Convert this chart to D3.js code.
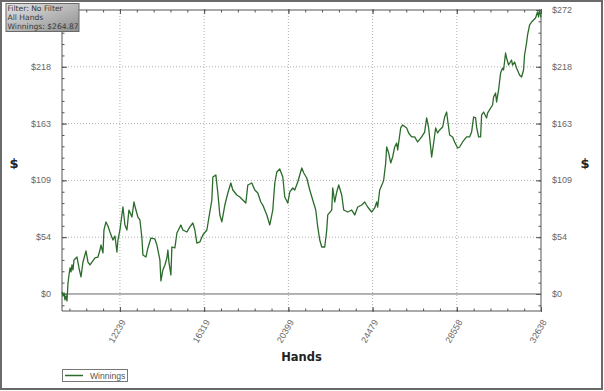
<!DOCTYPE html>
<html><head><meta charset="utf-8">
<script src="https://cdn.jsdelivr.net/npm/d3@7"></script>
<style>body{margin:0;background:#fff}svg{display:block}</style>
</head><body>
<svg id="c" width="604" height="391"></svg>
<script>
// ---- data ----
const hands = [9432,9480,9529,9577,9626,9674,9722,9771,9819,9868,9916,9964,10013,10158,10255,10352,10448,10594,10690,10787,10884,11029,11174,11271,11320,11416,11465,11562,11658,11755,11900,11997,12094,12142,12239,12384,12481,12578,12675,12820,12917,13014,13110,13207,13304,13352,13498,13594,13740,13933,14030,14175,14224,14320,14417,14514,14562,14611,14708,14756,14901,14998,15192,15288,15482,15627,15772,15869,15966,16111,16256,16450,16547,16692,16740,16886,16982,17079,17176,17321,17466,17612,17708,17902,18047,18192,18338,18434,18628,18773,18918,19064,19160,19354,19499,19644,19741,19838,19983,20128,20225,20370,20467,20612,20709,20854,21048,21145,21290,21435,21580,21726,21822,21919,22016,22161,22258,22306,22500,22548,22645,22742,22839,22984,23081,23274,23468,23613,23758,23952,24097,24242,24436,24581,24678,24726,24823,24968,25017,25114,25162,25259,25356,25452,25549,25646,25694,25840,25936,26130,26227,26372,26517,26662,26856,27001,27098,27195,27292,27340,27437,27534,27630,27727,27872,27969,28066,28114,28211,28356,28453,28598,28695,28840,29034,29179,29276,29373,29470,29518,29615,29712,29760,29857,30002,30050,30196,30292,30341,30438,30486,30583,30680,30776,30825,30922,30970,31067,31212,31260,31357,31454,31599,31696,31793,31841,31938,31986,32083,32180,32277,32374,32470,32519,32567,32638];
const winnings = [1.9,-1.9,1.0,-5.7,-1.9,-6.7,10.5,18.2,24.9,21.1,27.8,23.0,32.6,35.4,24.9,16.3,30.6,41.2,30.6,27.8,30.6,34.5,35.4,42.1,46.9,39.3,61.3,69.0,65.1,59.4,51.7,55.5,40.2,51.7,61.3,83.3,66.1,61.3,80.4,73.7,88.1,80.4,73.7,70.9,53.6,37.4,35.4,44.1,53.6,52.7,46.9,32.6,12.5,23.0,27.8,34.5,42.1,30.6,18.2,45.0,44.1,58.4,66.1,61.3,59.4,64.2,68.0,61.3,48.8,49.8,56.5,61.3,72.8,90.0,112.1,114.0,96.7,75.7,69.0,85.2,96.7,106.3,99.6,94.8,92.9,90.0,87.1,104.4,106.3,99.6,96.7,88.1,85.2,75.7,66.1,80.4,106.3,116.8,119.7,112.1,92.9,87.1,97.7,101.5,99.6,107.3,120.7,115.9,111.1,99.6,90.0,80.4,64.2,51.7,45.0,45.0,61.3,75.7,80.4,101.5,88.1,97.7,104.4,94.8,80.4,78.5,80.4,75.7,83.3,85.2,88.1,83.3,78.5,82.4,88.1,83.3,99.6,106.3,109.2,125.5,140.8,135.0,125.5,131.2,140.8,144.6,137.9,159.0,161.9,159.0,154.2,150.4,150.4,145.6,150.4,155.1,168.6,159.0,140.8,131.2,144.6,159.0,154.2,157.1,159.9,169.5,174.3,166.6,152.3,150.4,145.6,139.8,140.8,145.6,150.4,150.4,155.1,169.5,168.6,159.9,150.4,150.4,171.4,174.3,168.6,173.3,178.1,181.0,188.7,192.5,183.9,195.4,211.6,216.4,214.5,230.8,226.0,219.3,224.1,219.3,222.2,216.4,209.7,207.8,214.5,228.9,240.4,248.0,257.6,260.5,262.4,264.3,270.1,265.3,272.0,264.87];
const xTicks = [12239, 16319, 20399, 24479, 28558, 32638];
const yTicks = [0, 54.4, 108.8, 163.2, 217.6, 272];
const yTickLabels = ["$0", "$54", "$109", "$163", "$218", "$272"];
const infoLines = ["Filter: No Filter", "All Hands", "Winnings: $264.87"];
const seriesName = "Winnings";
const xTitle = "Hands";
const yTitle = "$";

// ---- layout ----
const svg = d3.select("#c");
const L = 62, R = 541, T = 10, B = 311;
const x = d3.scaleLinear().domain([9432, 32638]).range([L, R]);
const y = d3.scaleLinear().domain([-16.3, 272]).range([B, T]);
const axisCol = "#555", txtCol = "#666", font = "'Liberation Sans', Arial, sans-serif";

// outer frame
svg.append("rect").attr("x", 1).attr("y", 1).attr("width", 601).attr("height", 388)
  .attr("fill", "#fff").attr("stroke", "#6a6a6a").attr("stroke-width", 2);

// grid
const g = svg.append("g");
g.selectAll(".vg").data(xTicks.filter(t => x(t) < R - 2)).enter().append("line")
  .attr("x1", d => x(d)).attr("x2", d => x(d)).attr("y1", T).attr("y2", B)
  .attr("stroke", "#b0b0b0").attr("stroke-dasharray", "1,2");
g.selectAll(".hg").data(yTicks.filter(t => t > 0 && y(t) > T + 2)).enter().append("line")
  .attr("x1", L).attr("x2", R).attr("y1", d => y(d)).attr("y2", d => y(d))
  .attr("stroke", "#b0b0b0").attr("stroke-dasharray", "1,2");

// minor tick values
const xMinor = d3.range(0, 40).map(i => 32638 - i * 4079.75 / 5).filter(v => v >= 9432);
const yMinor = d3.range(-1, 26).map(i => i * 54.4 / 5).filter(v => v <= 272 && v >= -16.3);

function drawAxis(axisGen, tr) {
  const a = svg.append("g").attr("transform", tr).call(axisGen);
  a.select(".domain").remove();
  a.selectAll("line").attr("stroke", axisCol);
  a.selectAll("text").remove();
  return a;
}
drawAxis(d3.axisLeft(y).tickValues(yMinor).tickSize(2.5), `translate(${L+2.5},0)`);
drawAxis(d3.axisLeft(y).tickValues(yTicks).tickSize(5), `translate(${L+5},0)`);
drawAxis(d3.axisRight(y).tickValues(yMinor).tickSize(2.5), `translate(${R-2.5},0)`);
drawAxis(d3.axisRight(y).tickValues(yTicks).tickSize(5), `translate(${R-5},0)`);
drawAxis(d3.axisBottom(x).tickValues(xMinor).tickSize(2.5), `translate(0,${B-2.5})`);
drawAxis(d3.axisBottom(x).tickValues(xTicks).tickSize(5), `translate(0,${B-4})`);
drawAxis(d3.axisTop(x).tickValues(xMinor).tickSize(2.5), `translate(0,${T+2.5})`);
drawAxis(d3.axisTop(x).tickValues(xTicks).tickSize(5), `translate(0,${T+4})`);

// frame lines
svg.append("line").attr("x1", L).attr("x2", L).attr("y1", T).attr("y2", B).attr("stroke", axisCol);
svg.append("line").attr("x1", R).attr("x2", R).attr("y1", T).attr("y2", B).attr("stroke", axisCol);
svg.append("line").attr("x1", L).attr("x2", R).attr("y1", T).attr("y2", T).attr("stroke", axisCol);
svg.append("line").attr("x1", L).attr("x2", R).attr("y1", B).attr("y2", B).attr("stroke", axisCol);
svg.append("line").attr("x1", L).attr("x2", R).attr("y1", y(0)).attr("y2", y(0)).attr("stroke", "#666");

// y labels
svg.selectAll(".yl").data(yTicks).enter().append("text")
  .attr("x", L - 11).attr("y", d => y(d) + 3).attr("text-anchor", "end")
  .attr("font-family", font).attr("font-size", 9).attr("fill", txtCol)
  .text((d, i) => yTickLabels[i]);
svg.selectAll(".yr").data(yTicks).enter().append("text")
  .attr("x", R + 11).attr("y", d => y(d) + 3).attr("text-anchor", "start")
  .attr("font-family", font).attr("font-size", 9).attr("fill", txtCol)
  .text((d, i) => yTickLabels[i]);
// x labels
svg.selectAll(".xl").data(xTicks).enter().append("text")
  .attr("transform", d => `translate(${x(d) + 6},${B + 11}) rotate(-60)`)
  .attr("text-anchor", "end")
  .attr("font-family", font).attr("font-size", 9).attr("fill", txtCol)
  .text(d => d);

// titles
svg.append("text").attr("x", (L + R) / 2).attr("y", 361).attr("text-anchor", "middle")
  .attr("font-family", "'DejaVu Sans', Verdana, sans-serif").attr("font-weight", "bold")
  .attr("font-size", 11.5).attr("fill", "#222").text(xTitle);
svg.append("text").attr("x", 14).attr("y", 168).attr("text-anchor", "middle")
  .attr("font-family", "'DejaVu Sans', Verdana, sans-serif").attr("font-weight", "bold")
  .attr("font-size", 13).attr("fill", "#222").text(yTitle);
svg.append("text").attr("x", 585).attr("y", 168).attr("text-anchor", "middle")
  .attr("font-family", "'DejaVu Sans', Verdana, sans-serif").attr("font-weight", "bold")
  .attr("font-size", 13).attr("fill", "#222").text(yTitle);

// series line
const data = hands.map((h, i) => [h, winnings[i]]);
svg.append("path").datum(data)
  .attr("d", d3.line().x(d => x(d[0])).y(d => y(d[1])))
  .attr("fill", "none").attr("stroke", "#2b6b2b").attr("stroke-width", 1.3)
  .attr("stroke-linejoin", "round");

// info box
const defs = svg.append("defs");
const grad = defs.append("linearGradient").attr("id", "ib").attr("x1", "0").attr("y1", "0").attr("x2", "1").attr("y2", "1");
grad.append("stop").attr("offset", "0").attr("stop-color", "#e4e4e4");
grad.append("stop").attr("offset", "1").attr("stop-color", "#8e8e8e");
svg.append("rect").attr("x", 6).attr("y", 3.5).attr("width", 73).attr("height", 28)
  .attr("fill", "url(#ib)").attr("stroke", "#6a6a6a").attr("stroke-width", 1);
const info = svg.append("text").attr("x", 7.5).attr("y", 10.5)
  .attr("font-family", "'DejaVu Sans', Verdana, sans-serif").attr("font-size", 7.6).attr("fill", "#3a3a3a");
info.selectAll("tspan").data(infoLines).enter().append("tspan")
  .attr("x", 7.5).attr("dy", (d, i) => i === 0 ? 0 : 9)
  .text(d => d);

// legend
svg.append("rect").attr("x", 62.5).attr("y", 369.5).attr("width", 65).attr("height", 12)
  .attr("fill", "#fff").attr("stroke", "#777");
svg.append("line").attr("x1", 65).attr("x2", 83).attr("y1", 375.5).attr("y2", 375.5)
  .attr("stroke", "#2b6b2b").attr("stroke-width", 1.5);
svg.append("text").attr("x", 90).attr("y", 378.5).attr("font-family", font)
  .attr("font-size", 8.6).attr("fill", "#555").text(seriesName);
</script>
</body></html>
